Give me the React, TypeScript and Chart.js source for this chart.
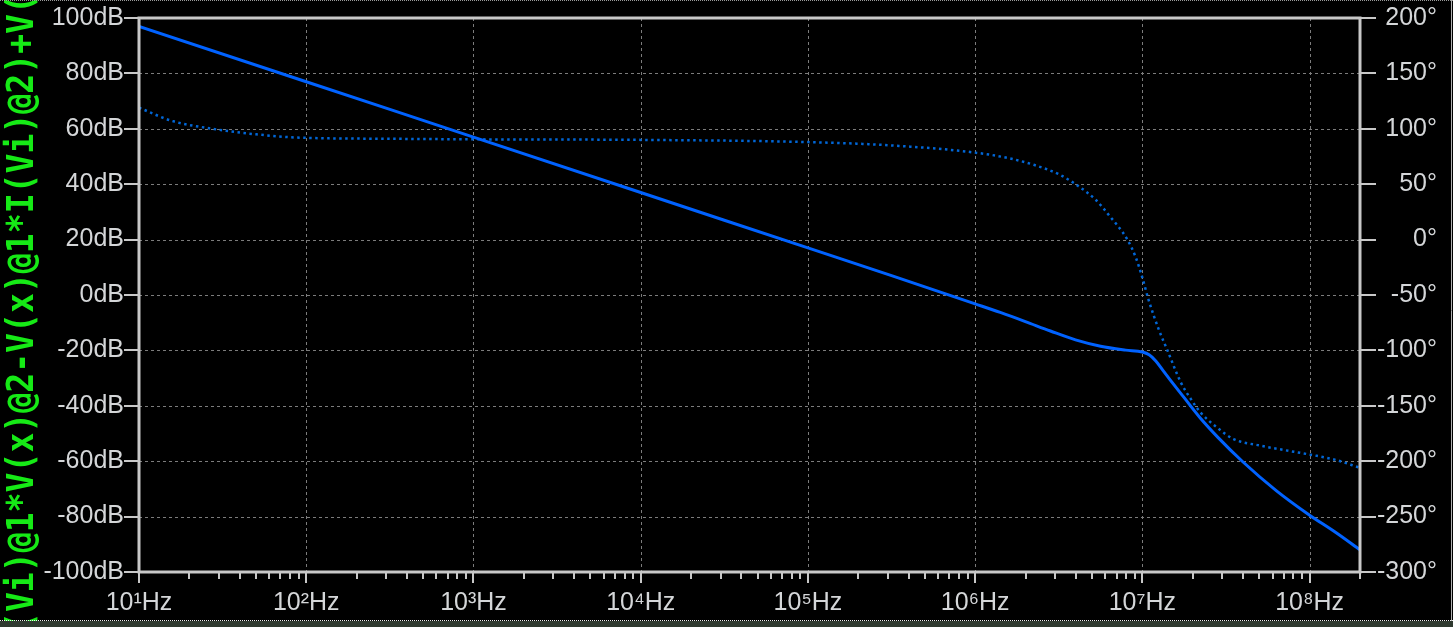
import React, { useEffect, useRef } from "react";
import { Chart, registerables } from "chart.js";

Chart.register(...registerables);

// ---- Data (frequencies given as log10(Hz)) ----
const magLogFreq = [1, 2, 3, 4, 5, 5.5, 6, 6.15, 6.3, 6.45, 6.6, 6.75, 6.9, 7.0, 7.04, 7.08, 7.126, 7.168, 7.246, 7.347, 7.45, 7.6, 7.8, 8.0, 8.15, 8.301];
const magDb = [97.0, 77.0, 57.0, 37.0, 17.0, 7.0, -3.2, -6.3, -9.6, -13.0, -16.2, -18.5, -19.9, -20.6, -21.6, -23.8, -27.5, -30.8, -36.8, -44.5, -51.3, -60.2, -70.6, -79.5, -85.5, -92.0];

const phaseLogFreq = [1, 1.2, 1.44, 1.7, 1.96, 2.5, 3, 4, 5, 5.5, 6, 6.2, 6.35, 6.5, 6.6, 6.72, 6.8, 6.91, 6.96, 7.0, 7.036, 7.1, 7.147, 7.23, 7.29, 7.347, 7.45, 7.545, 7.707, 7.85, 8.0, 8.16, 8.301];
const phaseDeg = [119, 107, 100, 95, 92, 91, 90.5, 90, 88, 85, 78.5, 73.5, 67.5, 59, 50, 36, 22, 0, -16, -34.5, -54, -82, -99, -129, -144, -156, -170, -180, -186, -190, -194, -199, -206];

const decadeExponents = [1, 2, 3, 4, 5, 6, 7, 8];
const minorMultipliers = [2, 3, 4, 5, 6, 7, 8, 9];
const supDigits = ["⁰", "¹", "²", "³", "⁴", "⁵", "⁶", "⁷", "⁸", "⁹"];

const xMin = 10;
const xMax = 2e8;
const dbMin = -100, dbMax = 100, dbStep = 20;
const degMin = -300, degMax = 200, degStep = 50;

const titleText = "(Vi)@1*V(x)@2-V(x)@1*I(Vi)@2)+V(x)@2";

const AXIS_COLOR = "#c8c8c8";
const GRID_COLOR = "#7c7c7c";
const LABEL_COLOR = "#d4d6d8";
const LABEL_FONT = { family: '"Liberation Sans", Arial, sans-serif', size: 25 };

const zeroPad = (scale: any) => {
  scale.paddingTop = 0;
  scale.paddingBottom = 0;
  scale.paddingLeft = 0;
  scale.paddingRight = 0;
};

const framePlugin = {
  id: "ltspiceFrame",
  beforeDatasetsDraw(chart: any) {
    const { ctx, chartArea: a, scales } = chart;
    ctx.save();
    ctx.strokeStyle = GRID_COLOR;
    ctx.lineWidth = 1;
    ctx.setLineDash([3, 3]);
    const xs = scales.x;
    decadeExponents.forEach((e) => {
      const px = Math.round(xs.getPixelForValue(Math.pow(10, e))) + 0.5;
      if (px > a.left + 2 && px < a.right - 2) {
        ctx.beginPath();
        ctx.moveTo(px, a.top);
        ctx.lineTo(px, a.bottom);
        ctx.stroke();
      }
    });
    const ys = scales.y;
    for (let v = dbMin + dbStep; v < dbMax; v += dbStep) {
      const py = Math.round(ys.getPixelForValue(v)) + 0.5;
      ctx.beginPath();
      ctx.moveTo(a.left, py);
      ctx.lineTo(a.right, py);
      ctx.stroke();
    }
    ctx.restore();
  },
  afterDatasetsDraw(chart: any) {
    const { ctx, chartArea: a, scales } = chart;
    ctx.save();
    ctx.setLineDash([]);
    ctx.strokeStyle = AXIS_COLOR;
    ctx.lineWidth = 2;
    const ys = scales.y;
    for (let v = dbMin; v <= dbMax; v += dbStep) {
      const py = Math.round(ys.getPixelForValue(v));
      ctx.beginPath();
      ctx.moveTo(a.left - 15, py);
      ctx.lineTo(a.left, py);
      ctx.stroke();
    }
    const y2 = scales.y2;
    for (let v = degMin; v <= degMax; v += degStep) {
      const py = Math.round(y2.getPixelForValue(v));
      ctx.beginPath();
      ctx.moveTo(a.right, py);
      ctx.lineTo(a.right + 16, py);
      ctx.stroke();
    }
    const xs = scales.x;
    decadeExponents.forEach((e) => {
      const d = Math.pow(10, e);
      const px = Math.round(xs.getPixelForValue(d));
      ctx.beginPath();
      ctx.moveTo(px, a.bottom);
      ctx.lineTo(px, a.bottom + 11);
      ctx.stroke();
      minorMultipliers.forEach((m) => {
        const f = m * d;
        if (f <= xMax) {
          const mx = Math.round(xs.getPixelForValue(f));
          ctx.beginPath();
          ctx.moveTo(mx, a.bottom);
          ctx.lineTo(mx, a.bottom + 7);
          ctx.stroke();
        }
      });
    });
    ctx.lineWidth = 3;
    ctx.strokeRect(a.left, a.top, a.right - a.left, a.bottom - a.top);
    ctx.restore();
  },
  afterDraw(chart: any) {
    const { ctx, width, height } = chart;
    ctx.save();
    ctx.translate(33, 632);
    ctx.rotate(-Math.PI / 2);
    ctx.scale(0.895, 1);
    ctx.font = 'bold 37px "DejaVu Sans Mono", "Liberation Mono", monospace';
    ctx.fillStyle = "#16ea16";
    ctx.textBaseline = "alphabetic";
    ctx.textAlign = "left";
    ctx.fillText(titleText, 0, 0);
    ctx.restore();
    ctx.save();
    ctx.fillStyle = "#2f3a30";
    ctx.fillRect(0, height - 6, width, 6);
    ctx.strokeStyle = "#f0f0f0";
    ctx.lineWidth = 1;
    ctx.setLineDash([1, 1]);
    ctx.beginPath();
    ctx.moveTo(0, height - 6.5);
    ctx.lineTo(width, height - 6.5);
    ctx.stroke();
    ctx.strokeStyle = "#9a9a9a";
    ctx.beginPath();
    ctx.moveTo(0, 0.5);
    ctx.lineTo(width, 0.5);
    ctx.stroke();
    ctx.setLineDash([]);
    ctx.strokeStyle = "#b0b0b0";
    ctx.beginPath();
    ctx.moveTo(width - 1.5, 0);
    ctx.lineTo(width - 1.5, height - 6);
    ctx.stroke();
    ctx.restore();
  },
};

export default function App() {
  const canvasRef = useRef<HTMLCanvasElement | null>(null);

  useEffect(() => {
    document.body.style.margin = "0";
    document.body.style.background = "#000";
    const canvas = canvasRef.current;
    if (!canvas) return;

    const magData = magLogFreq.map((lf, i) => ({ x: Math.pow(10, lf), y: magDb[i] }));
    const phaseData = phaseLogFreq.map((lf, i) => ({ x: Math.pow(10, lf), y: phaseDeg[i] }));

    const chart = new Chart(canvas, {
      type: "line",
      data: {
        datasets: [
          {
            label: "Magnitude",
            data: magData,
            yAxisID: "y",
            borderColor: "#0062ff",
            borderWidth: 3,
            pointRadius: 0,
            cubicInterpolationMode: "monotone",
          },
          {
            label: "Phase",
            data: phaseData,
            yAxisID: "y2",
            borderColor: "#0066d6",
            borderWidth: 2.5,
            borderDash: [2.5, 3.5],
            borderCapStyle: "butt",
            pointRadius: 0,
            cubicInterpolationMode: "monotone",
          },
        ],
      },
      options: {
        responsive: false,
        animation: false,
        events: [],
        layout: { padding: { left: 0, right: 16, top: 18, bottom: 0 } },
        plugins: { legend: { display: false }, tooltip: { enabled: false }, title: { display: false } },
        scales: {
          x: {
            type: "logarithmic",
            position: "bottom",
            min: xMin,
            max: xMax,
            grid: { display: false, drawTicks: false },
            border: { display: false },
            afterBuildTicks: (scale: any) => {
              scale.ticks = decadeExponents.map((e) => ({ value: Math.pow(10, e) }));
            },
            afterFit: (scale: any) => {
              scale.height = 55;
              zeroPad(scale);
            },
            ticks: {
              autoSkip: false,
              maxRotation: 0,
              padding: 16,
              color: LABEL_COLOR,
              font: LABEL_FONT,
              callback: (value: any) => {
                const e = Math.round(Math.log10(Number(value)));
                return "10" + supDigits[e] + "Hz";
              },
            },
          },
          y: {
            type: "linear",
            position: "left",
            min: dbMin,
            max: dbMax,
            grid: { display: false, drawTicks: false },
            border: { display: false },
            afterFit: (scale: any) => {
              scale.width = 139;
              zeroPad(scale);
            },
            ticks: {
              stepSize: dbStep,
              padding: 15,
              color: LABEL_COLOR,
              font: LABEL_FONT,
              callback: (v: any) => v + "dB",
            },
          },
          y2: {
            type: "linear",
            position: "right",
            min: degMin,
            max: degMax,
            grid: { display: false, drawTicks: false },
            border: { display: false },
            afterFit: (scale: any) => {
              scale.width = 77;
              zeroPad(scale);
            },
            ticks: {
              stepSize: degStep,
              crossAlign: "far",
              color: LABEL_COLOR,
              font: LABEL_FONT,
              callback: (v: any) => v + "°",
            },
          },
        },
      },
      plugins: [framePlugin],
    } as any);

    return () => chart.destroy();
  }, []);

  return (
    <div style={{ position: "fixed", left: 0, top: 0, width: 1453, height: 627, background: "#000" }}>
      <canvas ref={canvasRef} width={1453} height={627} style={{ display: "block" }} />
    </div>
  );
}
